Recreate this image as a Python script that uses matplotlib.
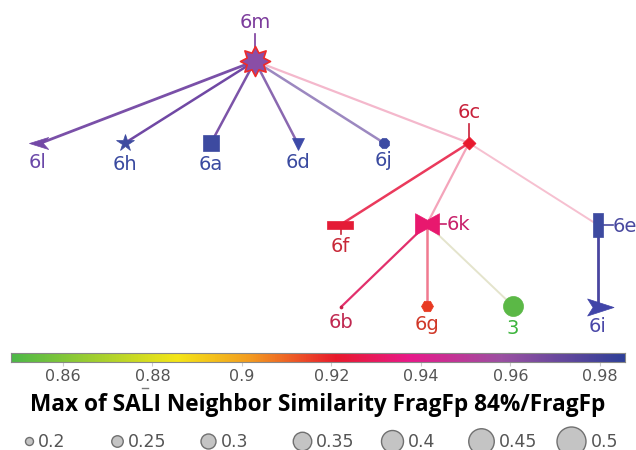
import numpy as np
import matplotlib
matplotlib.use("Agg")
import matplotlib.pyplot as plt
from matplotlib.path import Path
from matplotlib.colors import LinearSegmentedColormap

# tree nodes, layout position on the 636x450 canvas (px, y down)
nodes = ["6m", "6l", "6h", "6a", "6d", "6j", "6c", "6f", "6k", "6e", "6b", "6g", "3", "6i"]
node_x = [255, 41, 125, 211, 298, 384, 469, 340, 427, 598, 341, 427, 513, 598]
node_y = [61, 143, 143, 143, 144, 143, 143, 225, 224, 225, 307, 306, 306, 307]

edges = [("6m", "6l"), ("6m", "6h"), ("6m", "6a"), ("6m", "6d"), ("6m", "6j"),
         ("6m", "6c"), ("6c", "6f"), ("6c", "6k"), ("6c", "6e"),
         ("6k", "6b"), ("6k", "6g"), ("6k", "3"), ("6e", "6i")]

# colour scale (Max of SALI Neighbor Similarity)
cbar_ticks = [0.86, 0.88, 0.9, 0.92, 0.94, 0.96, 0.98]
cbar_lo, cbar_hi = 0.8484, 0.9856

# size legend
size_values = [0.2, 0.25, 0.3, 0.35, 0.4, 0.45, 0.5]
size_labels = ["0.2", "0.25", "0.3", "0.35", "0.4", "0.45", "0.5"]

# ---- styles -------------------------------------------------------------
def poly(pts):
    pts = list(pts) + [pts[0]]
    codes = [Path.MOVETO] + [Path.LINETO] * (len(pts) - 2) + [Path.CLOSEPOLY]
    return Path(pts, codes)

ang = np.pi / 2 + np.arange(16) * np.pi / 8
rad = np.where(np.arange(16) % 2 == 0, 1.0, 0.6)
burst = poly(list(zip(rad * np.cos(ang), rad * np.sin(ang))))
arrow_l = poly([(-1, 0), (0.6, 0.5), (0.15, 0), (0.6, -0.5)])
arrow_r = poly([(1, 0), (-0.7, 0.55), (-0.35, 0), (-0.7, -0.55)])
bar_h = poly([(-1, -0.33), (1, -0.33), (1, 0.33), (-1, 0.33)])
bar_v = poly([(-0.42, -1), (0.42, -1), (0.42, 1), (-0.42, 1)])
bowtie = poly([(-1, 0.9), (0, 0.35), (1, 0.9), (1, -0.9), (0, -0.35), (-1, -0.9)])
diamond = poly([(0, 1), (1, 0), (0, -1), (-1, 0)])

px = 0.72  # points per pixel at dpi 100
node_style = {
    "6m": dict(marker=burst, ms=30 * px, color="#8a4ea6", mec="#ee2a2a", mew=1.2),
    "6l": dict(marker=arrow_l, ms=24 * px, color="#7348a6"),
    "6h": dict(marker="*", ms=18 * px, color="#3e4ba0"),
    "6a": dict(marker="s", ms=16 * px, color="#3d4aa0"),
    "6d": dict(marker="v", ms=12 * px, color="#3d4aa8"),
    "6j": dict(marker="8", ms=10 * px, color="#3c4aa2"),
    "6c": dict(marker=diamond, ms=13 * px, color="#e8172d"),
    "6f": dict(marker=bar_h, ms=27 * px, color="#e41c36"),
    "6k": dict(marker=bowtie, ms=24 * px, color="#e8186e"),
    "6e": dict(marker=bar_v, ms=24 * px, color="#3d4aa0"),
    "6b": dict(marker="o", ms=3 * px, color="#c81e48"),
    "6g": dict(marker="H", ms=12 * px, color="#e83a22"),
    "3": dict(marker="o", ms=20 * px, color="#5bb846"),
    "6i": dict(marker=arrow_r, ms=31 * px, color="#4044a8"),
}
edge_style = [("#7a50a8", 2.0), ("#7048a4", 1.8), ("#7c54a8", 1.8), ("#8a68b0", 1.8),
              ("#9c88c0", 1.8), ("#f4b8cc", 1.6), ("#ea3a5c", 1.8), ("#f4a4ba", 1.6),
              ("#f6c0d0", 1.4), ("#e2306c", 1.6), ("#f07a90", 1.8), ("#e4e4cc", 1.4),
              ("#4a46a0", 2.0)]
# label: (dx, dy, ha, colour, connector)
label_style = {
    "6m": (0, -38, "center", "#7c3c9c", ((0, -27), (0, -13))),
    "6l": (-3, 20, "center", "#6a48a8", None),
    "6h": (0, 21, "center", "#3a4aa0", None),
    "6a": (0, 22, "center", "#3a4aa0", None),
    "6d": (0, 19, "center", "#3a4aa0", None),
    "6j": (0, 18, "center", "#3a4aa0", None),
    "6c": (0, -30, "center", "#c8203a", ((0, -19), (0, -6))),
    "6f": (0, 22, "center", "#c82838", ((1, 4), (1, 9))),
    "6k": (20, 1, "left", "#c8206a", ((12, 0), (19, 0))),
    "6e": (15, 1, "left", "#4a4aa0", ((5, 0), (15, 0))),
    "6b": (0, 16, "center", "#c02850", None),
    "6g": (0, 19, "center", "#d03828", None),
    "3": (0, 22, "center", "#3cb43c", None),
    "6i": (0, 20, "center", "#4a48a8", None),
}

cmap = LinearSegmentedColormap.from_list("sali", [
    (0.0, "#4db848"), (0.27, "#f5e617"), (0.39, "#f39a20"), (0.53, "#e8192c"),
    (0.65, "#e8198a"), (0.80, "#9b50a2"), (1.0, "#2e3f98")])

fig = plt.figure(figsize=(6.36, 4.5), dpi=100)
ax = fig.add_axes([0, 0, 1, 1])
ax.set_xlim(0, 636)
ax.set_ylim(450, 0)
ax.axis("off")

pos = {n: (x, y) for n, x, y in zip(nodes, node_x, node_y)}
for (a, b), (c, lw) in zip(edges, edge_style):
    ax.plot([pos[a][0], pos[b][0]], [pos[a][1], pos[b][1]], color=c, lw=lw, zorder=1,
            solid_capstyle="round")

for n in nodes:
    st = dict(node_style[n])
    st.setdefault("mec", st["color"])
    st.setdefault("mew", 0.5)
    ax.plot(pos[n][0], pos[n][1], ls="none", zorder=3, **st)
    dx, dy, ha, c, conn = label_style[n]
    ax.text(pos[n][0] + dx, pos[n][1] + dy, n, ha=ha, va="center", color=c,
            fontsize=14, family="DejaVu Sans")
    if conn:
        (x0, y0), (x1, y1) = conn
        ax.plot([pos[n][0] + x0, pos[n][0] + x1], [pos[n][1] + y0, pos[n][1] + y1],
                color=c, lw=1.2, zorder=2)

# size legend
lx = [29, 117, 208, 302, 392, 481, 571]
for x, v, lab in zip(lx, size_values, size_labels):
    d = 8 + (v - 0.2) * 70
    ax.scatter([x], [441], s=(d * px) ** 2, color="#c4c4c4", edgecolor="#707070",
               linewidth=1, zorder=3)
    ax.text(x + d / 2 + 5, 442, lab, ha="left", va="center", fontsize=12.5,
            color="#555555", family="DejaVu Sans")

ax.text(318, 405, "Max of SALI Neighbor Similarity FragFp 84%/FragFp", ha="center",
        va="center", fontsize=16.3, fontweight="bold", family="Open Sans", color="#000000")
ax.plot([142, 148], [388, 388], color="#777777", lw=1)

# colour bar
cax = fig.add_axes([11 / 636, 1 - 362 / 450, 614 / 636, 9 / 450])
grad = np.linspace(cbar_lo, cbar_hi, 512)[None, :]
cax.imshow(grad, cmap=cmap, aspect="auto", extent=[cbar_lo, cbar_hi, 0, 1],
           vmin=cbar_lo, vmax=cbar_hi)
cax.set_xlim(cbar_lo, cbar_hi)
cax.set_yticks([])
cax.set_xticks(cbar_ticks)
cax.set_xticklabels([f"{t:g}" for t in cbar_ticks])
cax.tick_params(axis="x", length=3, color="#cccccc", labelsize=11.5,
                labelcolor="#555555", pad=2)
for s in cax.spines.values():
    s.set_color("#888888")
    s.set_linewidth(0.8)

fig.savefig("out.png", dpi=100)
